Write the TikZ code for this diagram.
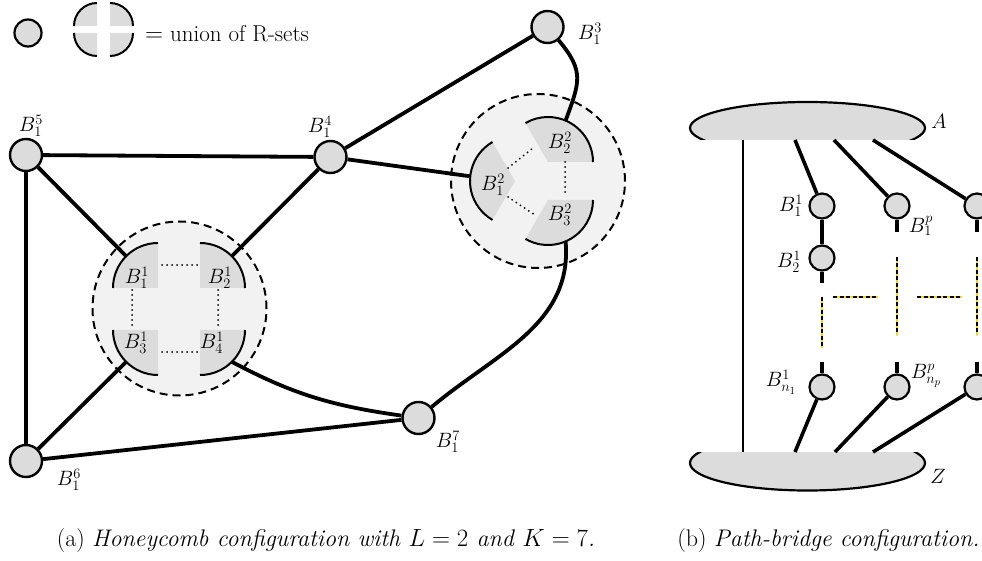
\documentclass[tikz,border=0pt]{standalone}
\usetikzlibrary{calc}
\definecolor{pc}{HTML}{DCDCDC}
\definecolor{bgc}{HTML}{F2F2F2}
\definecolor{ylw}{HTML}{FFD800}
\newcommand{\rpiece}[4]{%
  \fill[pc] (#1) -- ++(#2:#4) arc[start angle=#2,end angle=#3,radius=#4] -- cycle;
  \draw[arcl] (#1) ++(#2:#4) arc[start angle=#2,end angle=#3,radius=#4];}
\begin{document}
\begin{tikzpicture}[x=1pt,y=1pt,
  nd/.style={circle,draw=black,line width=2.4pt,fill=pc,minimum size=32pt,inner sep=0pt},
  rnd/.style={circle,draw=black,line width=2.2pt,fill=pc,minimum size=25pt,inner sep=0pt},
  lnd/.style={circle,draw=black,line width=2.2pt,fill=pc,minimum size=27pt,inner sep=0pt},
  edge/.style={line width=3.8pt},
  redge/.style={line width=3.6pt},
  arcl/.style={line width=2pt},
  dotl/.style={line width=2pt,dash pattern=on 0pt off 5pt,line cap=round},
  dcirc/.style={line width=2pt,dash pattern=on 8pt off 5pt,fill=bgc},
  lbl/.style={font=\fontsize{22}{26}\selectfont,inner sep=0pt},
  ydash/.style={line width=2pt,dash pattern=on 4pt off 2.5pt,preaction={draw=ylw,line width=2.2pt,solid}},
  captxt/.style={font=\fontsize{24}{28}\selectfont,anchor=base,inner sep=0pt}]
\clip (0,0) rectangle (982,560);
\useasboundingbox (0,0) rectangle (982,560);

% ---------- legend ----------
\node[lnd] (legc) at (28,527) {};
\rpiece{97,534}{180}{90}{23}
\rpiece{110,534}{90}{0}{23}
\rpiece{97,527}{180}{270}{23}
\rpiece{110,527}{270}{360}{23}
\node[lbl,anchor=base west,font=\fontsize{23}{27}\selectfont] (legt) at (145,518) {$=$ union of R-sets};

% ---------- cluster 1 ----------
\draw[dcirc] (179.5,251.5) circle (87);
\rpiece{158,272}{180}{90}{45}
\rpiece{200,272}{90}{0}{45}
\rpiece{158,230}{180}{270}{45}
\rpiece{200,230}{270}{360}{45}
\node[lbl] (c11) at (137,282) {$B_1^1$};
\node[lbl] (c12) at (220,282) {$B_2^1$};
\node[lbl] (c13) at (136,217) {$B_3^1$};
\node[lbl] (c14) at (212,217) {$B_4^1$};
\draw[dotl] (162,295) -- (198,295);
\draw[dotl] (162,208) -- (198,208);
\draw[dotl] (132,270) -- (132,232);
\draw[dotl] (218,270) -- (218,232);
\coordinate (p1) at (126.2,303.8);
\coordinate (p2) at (231.8,303.8);
\coordinate (p3) at (126.2,198.2);
\coordinate (p4) at (231.8,198.2);

% ---------- cluster 2 ----------
\draw[dcirc] (538,379) circle (87);
\rpiece{515,379}{120}{240}{45}
\rpiece{548,398}{0}{120}{45}
\rpiece{548,360}{-120}{0}{45}
\node[lbl] (c21) at (493,375) {$B_1^2$};
\node[lbl] (c22) at (560,417) {$B_2^2$};
\node[lbl] (c23) at (560,345) {$B_3^2$};
\draw[dotl] (508,392) -- (533,412);
\draw[dotl] (508,363) -- (535,345);
\draw[dotl] (565,398) -- (565,365);
\coordinate (q1) at (470.2,383.7);
\coordinate (q2) at (565.6,439.4);
\coordinate (q3) at (565.6,318.6);

% ---------- nodes ----------
\node[nd] (B15) at (26,405) {};
\node[nd] (B14) at (330.5,403) {};
\node[nd] (B13) at (547.5,533) {};
\node[nd] (B16) at (26,99) {};
\node[nd] (B17) at (418.5,142) {};
\node[lbl] (l15) at (31,434) {$B_1^5$};
\node[lbl] (l14) at (320,433) {$B_1^4$};
\node[lbl] (l13) at (590,526) {$B_1^3$};
\node[lbl] (l16) at (69,80) {$B_1^6$};
\node[lbl] (l17) at (448,118) {$B_1^7$};

% ---------- edges ----------
\draw[edge] (B15) -- (B14);
\draw[edge] (B15) -- (B16);
\draw[edge] (B16) -- (B17);
\draw[edge] (B14) -- (B13);
\draw[edge] (B15) -- (p1);
\draw[edge] (B14) -- (p2);
\draw[edge] (B16) -- (p3);
\draw[edge] (p4) to[out=-28,in=172] (B17);
\draw[edge] (B14) -- (q1);
\draw[edge] (B13) to[out=-50,in=70,looseness=1.3] (q2);
\draw[edge] (q3) to[out=-85,in=40] (B17);

% ---------- right panel ----------
\begin{scope}
  \clip (680,420) rectangle (960,470);
  \draw[line width=2.2pt,fill=pc] (807.5,432) ellipse (117.5 and 26);
\end{scope}
\begin{scope}
  \clip (680,60) rectangle (960,108);
  \draw[line width=2.2pt,fill=pc] (807.5,97) ellipse (117.5 and 27.5);
\end{scope}
\node[lbl] (lA) at (939,439) {$A$};
\node[lbl] (lZ) at (938,84) {$Z$};
\coordinate (t1) at (743,420);
\coordinate (t2) at (743,108);
\draw[line width=2pt] (t1) -- (t2);

\coordinate (a1) at (795,420);
\coordinate (a2) at (834,420);
\coordinate (a3) at (873,420);
\coordinate (z1) at (795,108);
\coordinate (z2) at (835,108);
\coordinate (z3) at (873,108);

\node[rnd] (R11) at (822,354) {};
\node[rnd] (R1p) at (897,354) {};
\node[rnd] (R1q) at (977,354) {};
\node[rnd] (R21) at (822,302) {};
\node[rnd] (Rn1) at (822,173) {};
\node[rnd] (Rnp) at (897,173) {};
\node[rnd] (Rnq) at (977,173) {};

\draw[redge] (a1) -- (R11);
\draw[redge] (a2) -- (R1p);
\draw[redge] (a3) -- (R1q);
\draw[redge] (R11) -- (R21);
\draw[redge] (Rn1) -- (z1);
\draw[redge] (Rnp) -- (z2);
\draw[redge] (Rnq) -- (z3);

\coordinate (s1) at (897,328);
\coordinate (s2) at (977,328);
\coordinate (s3) at (822,277);
\coordinate (s4) at (822,198);
\coordinate (s5) at (897,198);
\coordinate (s6) at (977,198);
\draw[redge] (R1p.south) -- (s1);
\draw[redge] (R1q.south) -- (s2);
\draw[redge] (R21.south) -- (s3);
\draw[redge] (Rn1.north) -- (s4);
\draw[redge] (Rnp.north) -- (s5);
\draw[redge] (Rnq.north) -- (s6);

\coordinate (y1a) at (822,263); \coordinate (y1b) at (822,212);
\coordinate (y2a) at (833,263); \coordinate (y2b) at (878,263);
\coordinate (y3a) at (897,303); \coordinate (y3b) at (897,225);
\coordinate (y4a) at (917,263); \coordinate (y4b) at (962,263);
\coordinate (y5a) at (977,303); \coordinate (y5b) at (977,225);
\draw[ydash] (y1a) -- (y1b);
\draw[ydash] (y2a) -- (y2b);
\draw[ydash] (y3a) -- (y3b);
\draw[ydash] (y4a) -- (y4b);
\draw[ydash] (y5a) -- (y5b);

\node[lbl] (r11) at (791,354) {$B_1^1$};
\node[lbl] (r1p) at (921,334) {$B_1^p$};
\node[lbl] (r21) at (789,298) {$B_2^1$};
\node[lbl] (rn1) at (781,178) {$B_{n_1}^1$};
\node[lbl] (rnp) at (926,184) {$B_{n_p}^p$};

% ---------- captions ----------
\node[captxt] (capa) at (326,14) {(a) \textit{Honeycomb configuration with $L=2$ and $K=7$.}};
\node[captxt] (capb) at (828.5,14) {(b) \textit{Path-bridge configuration.}};
\end{tikzpicture}
\end{document}
